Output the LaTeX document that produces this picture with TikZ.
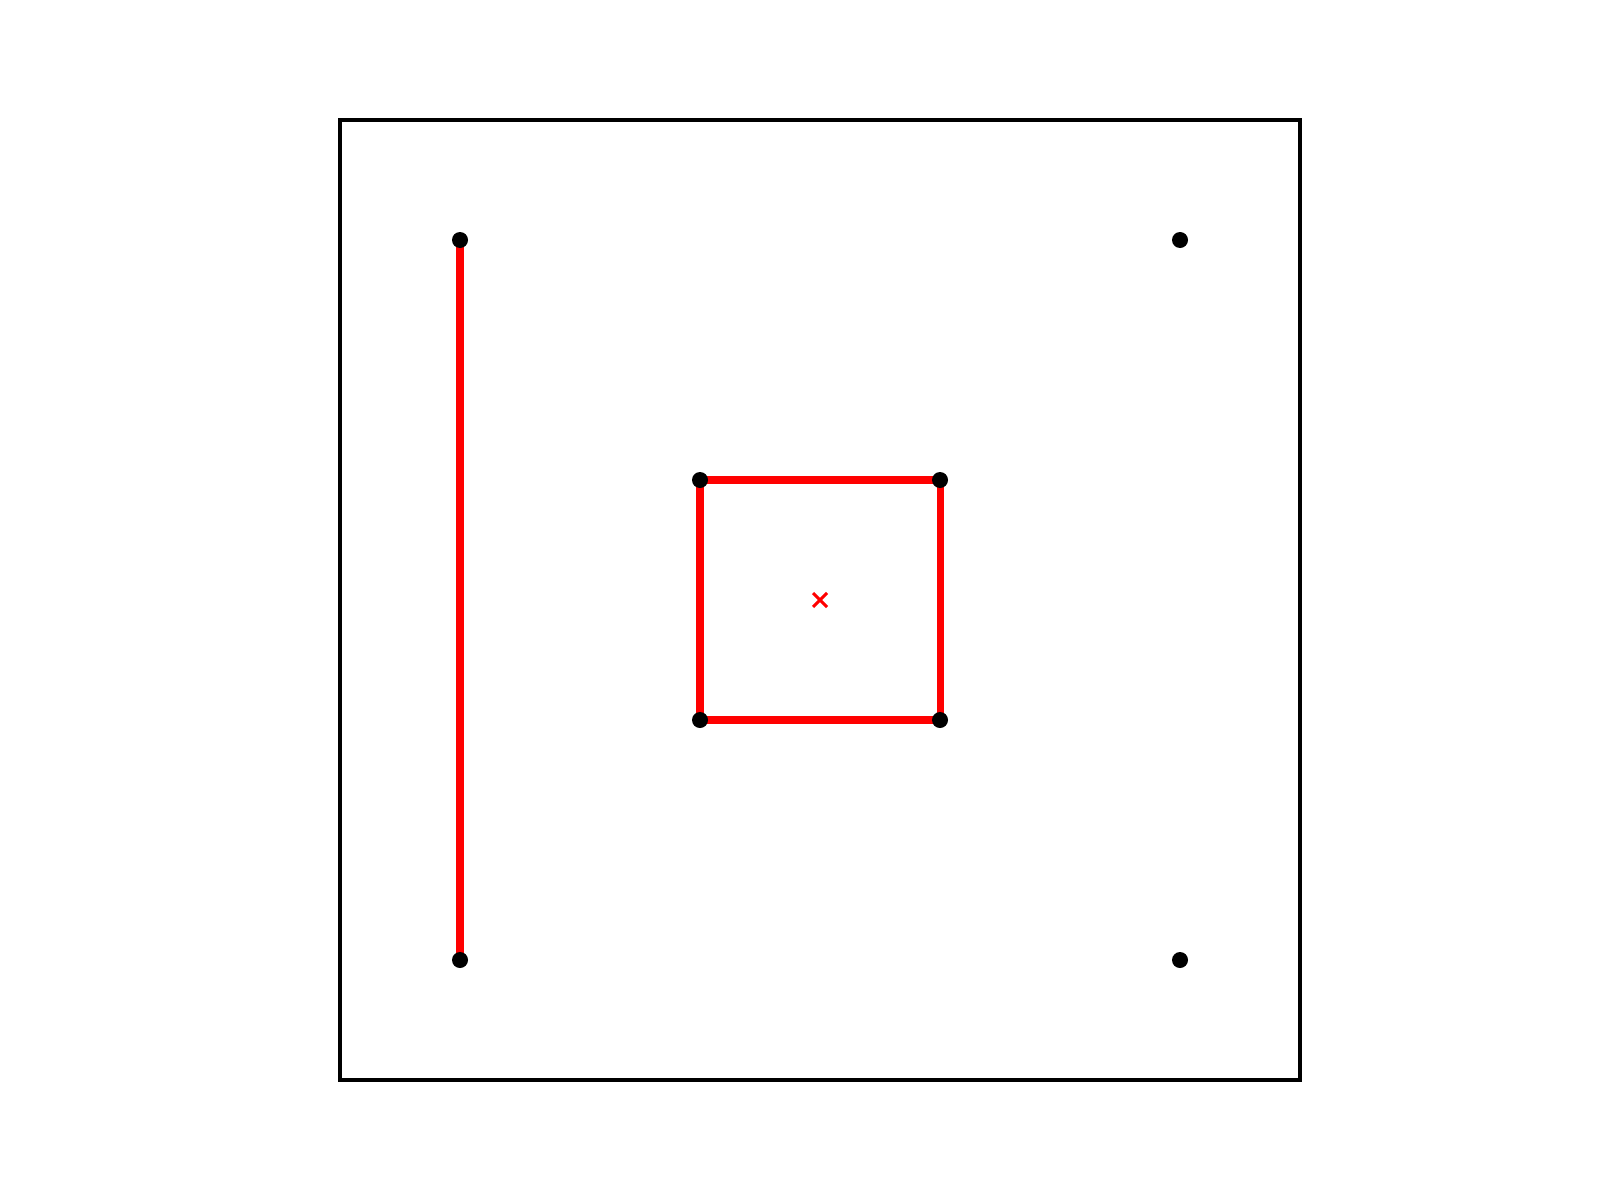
\documentclass[tikz,border=0pt]{standalone}
\begin{document}
\begin{tikzpicture}[x=1cm,y=1cm,
  redline/.style={draw=red,line width=2pt},
  dot/.style={circle,fill=black,inner sep=0pt,minimum size=0.16cm},
  frame/.style={draw=black,line width=1pt}]
\useasboundingbox (0,0) rectangle (16,12);
\begin{scope}[shift={(3.4,1.2)},x=1.2cm,y=1.2cm]
\node[frame,minimum width=9.6cm,minimum height=9.6cm,inner sep=0pt] (box) at (4,4) {};
\coordinate (a) at (1,7);
\coordinate (b) at (1,1);
\coordinate (c) at (7,7);
\coordinate (d) at (7,1);
\coordinate (s1) at (3,5);
\coordinate (s2) at (5,5);
\coordinate (s3) at (5,3);
\coordinate (s4) at (3,3);
\coordinate (ctr) at (4,4);
\draw[redline] (a) -- (b);
\draw[redline,line join=round] (s1) -- (s2) -- (s3) -- (s4) -- cycle;
\foreach \p in {a,b,c,d,s1,s2,s3,s4} \node[dot] (n\p) at (\p) {};
\draw[red,line width=0.85pt] ([shift={(-0.07cm,-0.07cm)}]ctr) -- ([shift={(0.07cm,0.07cm)}]ctr)
  ([shift={(-0.07cm,0.07cm)}]ctr) -- ([shift={(0.07cm,-0.07cm)}]ctr);
\end{scope}
\end{tikzpicture}
\end{document}
